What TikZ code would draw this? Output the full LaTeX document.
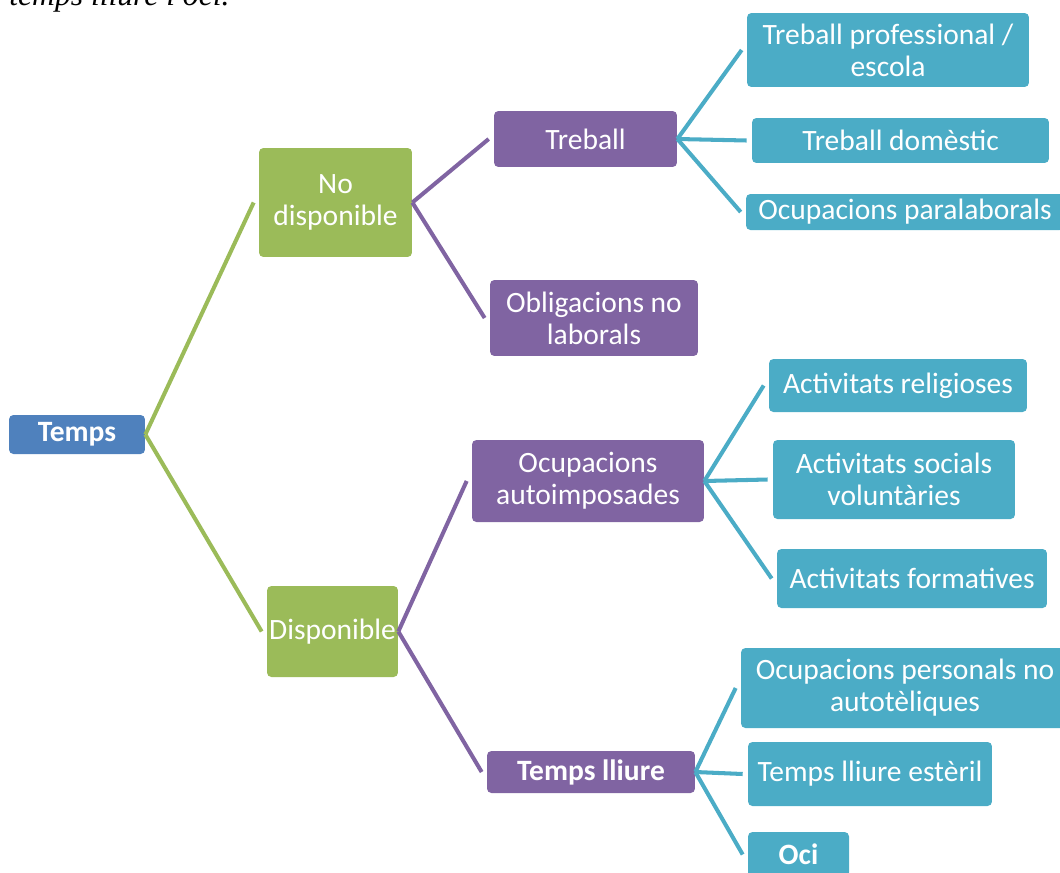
\documentclass[tikz,border=0pt]{standalone}
\usepackage{fontspec}
\setmainfont{Carlito}
\newfontfamily\captionfont{Liberation Serif}
\usepackage{xcolor}
\usetikzlibrary{positioning, calc}

\definecolor{blauT}{HTML}{4F81BD}
\definecolor{verdT}{HTML}{9BBB59}
\definecolor{lilaT}{HTML}{8064A2}
\definecolor{aiguaT}{HTML}{4BACC6}

\begin{document}
\begin{tikzpicture}[
    x=0.02cm, y=-0.02cm,
    box/.style={
        rectangle,
        rounded corners=2.5pt,
        text=white,
        align=center,
        inner sep=0pt,
        font=\fontsize{16.8}{18.2}\selectfont
    },
    arrel/.style={box, fill=blauT},
    nivell1/.style={box, fill=verdT},
    nivell2/.style={box, fill=lilaT},
    nivell3/.style={box, fill=aiguaT},
    link/.style={line width=2.3pt}
]
\useasboundingbox (0,0) rectangle (1060,872);

% peu de text tallat a dalt
\node[anchor=base west, inner sep=0pt, font=\captionfont\itshape\fontsize{18}{21}\selectfont] (caption) at (9,6) {temps lliure i oci.};

\node[arrel, minimum width=2.72cm, minimum height=0.78cm] (temps) at (77,434.5) {\bfseries Temps};

\node[nivell1, minimum width=3.06cm, minimum height=2.18cm] (nodisp) at (335.5,202.5) {No\\disponible};
\node[nivell1, minimum width=2.62cm, minimum height=1.82cm] (disp) at (332.5,631.5) {Disponible};

\node[nivell2, minimum width=3.66cm, minimum height=1.12cm] (treball) at (585.5,139) {Treball};
\node[nivell2, minimum width=4.16cm, minimum height=1.52cm] (oblig) at (594,318) {Obligacions no\\laborals};
\node[nivell2, minimum width=4.64cm, minimum height=1.64cm] (autoimp) at (588,481) {Ocupacions\\autoimposades};
\node[nivell2, minimum width=4.16cm, minimum height=0.84cm] (lliure) at (591,772) {\bfseries Temps lliure};

\node[nivell3, minimum width=5.64cm, minimum height=1.48cm] (prof) at (888,50) {Treball professional /\\escola};
\node[nivell3, minimum width=5.94cm, minimum height=0.9cm] (domes) at (900.5,140.5) {Treball domèstic};
\node[nivell3, minimum width=6.36cm, minimum height=0.72cm] (paral) at (905,212) {Ocupacions paralaborals};

\node[nivell3, minimum width=5.16cm, minimum height=1.06cm] (relig) at (898,385.5) {Activitats religioses};
\node[nivell3, minimum width=4.84cm, minimum height=1.58cm] (socials) at (894,479.5) {Activitats socials\\voluntàries};
\node[nivell3, minimum width=5.4cm, minimum height=1.18cm] (format) at (912,578.5) {Activitats formatives};

\node[nivell3, minimum width=6.56cm, minimum height=1.6cm] (personals) at (905,688) {Ocupacions personals no\\autotèliques};
\node[nivell3, minimum width=4.88cm, minimum height=1.28cm] (esteril) at (870,774) {Temps lliure estèril};
\node[nivell3, minimum width=2.02cm, minimum height=0.9cm] (oci) at (798.5,854.5) {\bfseries Oci};

% connectors
\draw[link, verdT] (temps.east) -- ([xshift=-0.1cm]nodisp.west);
\draw[link, verdT] (temps.east) -- ([xshift=-0.1cm]disp.west);

\draw[link, lilaT] (nodisp.east) -- ([xshift=-0.1cm]treball.west);
\draw[link, lilaT] (nodisp.east) -- ([xshift=-0.1cm]oblig.west);
\draw[link, lilaT] (disp.east) -- ([xshift=-0.1cm]autoimp.west);
\draw[link, lilaT] (disp.east) -- ([xshift=-0.1cm]lliure.west);

\draw[link, aiguaT] (treball.east) -- ([xshift=-0.1cm]prof.west);
\draw[link, aiguaT] (treball.east) -- ([xshift=-0.1cm]domes.west);
\draw[link, aiguaT] (treball.east) -- ([xshift=-0.1cm]paral.west);

\draw[link, aiguaT] (autoimp.east) -- ([xshift=-0.1cm]relig.west);
\draw[link, aiguaT] (autoimp.east) -- ([xshift=-0.1cm]socials.west);
\draw[link, aiguaT] (autoimp.east) -- ([xshift=-0.1cm]format.west);

\draw[link, aiguaT] (lliure.east) -- ([xshift=-0.1cm]personals.west);
\draw[link, aiguaT] (lliure.east) -- ([xshift=-0.1cm]esteril.west);
\draw[link, aiguaT] (lliure.east) -- ([xshift=-0.1cm]oci.west);

\end{tikzpicture}
\end{document}
